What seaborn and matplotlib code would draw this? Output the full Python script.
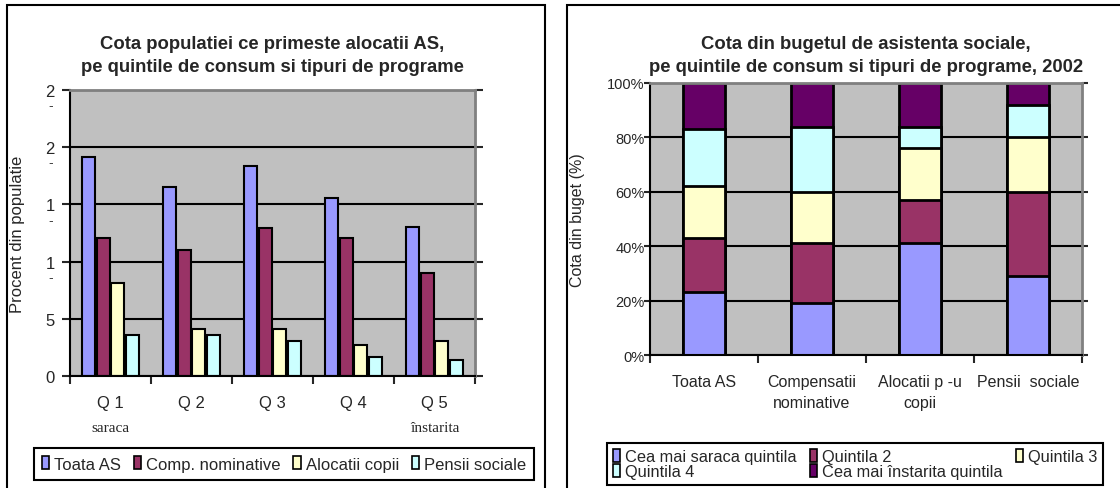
import numpy as np
import pandas as pd
import matplotlib
matplotlib.use("Agg")
import matplotlib.pyplot as plt
import seaborn as sns
from matplotlib.patches import Rectangle, Patch

# left chart: share of population receiving social assistance, by quintile
quintile_labels = ["Q 1", "Q 2", "Q 3", "Q 4", "Q 5"]
program_names = ["Toata AS", "Comp. nominative", "Alocatii copii", "Pensii sociale"]
toata_as = [19.1, 16.5, 18.4, 15.6, 13.0]
comp_nominative = [12.1, 11.0, 12.9, 12.1, 9.0]
alocatii_copii = [8.1, 4.1, 4.1, 2.7, 3.1]
pensii_sociale = [3.6, 3.6, 3.1, 1.7, 1.4]
left_yticks = [0, 5, 10, 15, 20, 25]
left_ytick_labels = ["0", "5", "1", "1", "2", "2"]

# right chart: share of social assistance budget by quintile (%)
program_labels = ["Toata AS", "Compensatii\nnominative", "Alocatii p -u\ncopii", "Pensii  sociale"]
quintila_names = ["Cea mai saraca quintila", "Quintila 2", "Quintila 3",
                  "Quintila 4", "Cea mai înstarita quintila"]
share_q1 = [23, 19, 41, 29]
share_q2 = [20, 22, 16, 31]
share_q3 = [19, 19, 19, 20]
share_q4 = [21, 24, 8, 12]
share_q5 = [17, 16, 16, 8]

colors = ["#9999FF", "#993366", "#FFFFCC", "#CCFFFF", "#660066"]

sns.set_style("white")
plt.rcParams["font.family"] = ["Liberation Sans", "DejaVu Sans"]

fig = plt.figure(figsize=(11.2, 4.89), dpi=100)
ax1 = fig.add_axes([70 / 1120, 1 - 377 / 489, 405 / 1120, 286 / 489])
ax2 = fig.add_axes([650 / 1120, 1 - 356 / 489, 432 / 1120, 272 / 489])

# panel frames
fig.add_artist(Rectangle((7 / 1120, -0.05), 538 / 1120, 1 - 6 / 489 + 0.05,
                         transform=fig.transFigure, fill=False, edgecolor="black", lw=1.5))
fig.add_artist(Rectangle((567 / 1120, -0.05), 0.6, 1 - 6 / 489 + 0.05,
                         transform=fig.transFigure, fill=False, edgecolor="black", lw=1.5))

# ---- left chart
df_left = pd.DataFrame({"quintila": quintile_labels,
                        program_names[0]: toata_as,
                        program_names[1]: comp_nominative,
                        program_names[2]: alocatii_copii,
                        program_names[3]: pensii_sociale})
df_left = df_left.melt(id_vars="quintila", var_name="program", value_name="procent")

sns.barplot(data=df_left, x="quintila", y="procent", hue="program",
            palette=colors[:4], saturation=1, width=0.72, gap=0.12,
            edgecolor="black", linewidth=1.5, legend=False, ax=ax1)

ax1.set_facecolor("#C0C0C0")
ax1.set_xlim(-0.5, 4.5)
ax1.set_ylim(0, 25)
ax1.set_yticks(left_yticks)
ax1.set_yticklabels(left_ytick_labels, fontsize=12)
ax1.yaxis.grid(True, color="black", lw=1.5)
ax1.set_axisbelow(True)
ax1.tick_params(axis="y", direction="out", length=6, width=1.5, pad=5, left=True, right=True)
ax1.tick_params(axis="x", length=0, pad=14, labelsize=12)
ax1.set_xticks(np.arange(-0.5, 5, 1), minor=True)
ax1.tick_params(axis="x", which="minor", direction="out", length=6, width=1.5, bottom=True)
# truncated tick labels leave a small dash under the digit
for v in left_yticks[2:]:
    ax1.annotate("-", xy=(0, v), xycoords=("axes fraction", "data"),
                 xytext=(-14, -11), textcoords="offset points",
                 ha="center", va="center", fontsize=10, color="#444444")
ax1.set_xlabel("")
ax1.set_ylabel("Procent din populatie", fontsize=12)
ax1.yaxis.set_label_coords(-0.111, 0.5)
for s in ["left", "bottom"]:
    ax1.spines[s].set_color("black")
    ax1.spines[s].set_linewidth(1.5)
for s in ["top", "right"]:
    ax1.spines[s].set_color("#808080")
    ax1.spines[s].set_linewidth(2)

ax1.text(0, -0.18, "saraca", transform=ax1.get_xaxis_transform(), ha="center", va="center",
         family=["Liberation Serif", "DejaVu Serif"], fontsize=11)
ax1.text(4, -0.18, "înstarita", transform=ax1.get_xaxis_transform(), ha="center", va="center",
         family=["Liberation Serif", "DejaVu Serif"], fontsize=11)

fig.text(272 / 1120, 1 - 56 / 489,
         "Cota populatiei ce primeste alocatii AS,\npe quintile de consum si tipuri de programe",
         ha="center", va="center", fontsize=13.3, fontweight="bold", linespacing=1.4)

leg1 = fig.legend([Patch(facecolor=c, edgecolor="black", lw=1.2) for c in colors[:4]],
                  program_names, loc="center", bbox_to_anchor=(284 / 1120, 1 - 465 / 489),
                  ncol=4, fontsize=12, frameon=True, fancybox=False, edgecolor="black",
                  framealpha=1, handlelength=0.45, handleheight=0.8, handletextpad=0.3,
                  columnspacing=0.75, borderpad=0.5, borderaxespad=0)
leg1.get_frame().set_linewidth(1.5)

# ---- right chart (stacked)
shares = np.array([share_q1, share_q2, share_q3, share_q4, share_q5])
cumulative = np.cumsum(shares, axis=0)
for i in reversed(range(len(quintila_names))):
    sns.barplot(x=program_labels, y=cumulative[i], color=colors[i], saturation=1,
                width=0.39, edgecolor="black", linewidth=2, ax=ax2)

ax2.set_facecolor("#C0C0C0")
ax2.set_xlim(-0.5, 3.5)
ax2.set_ylim(0, 100)
ax2.set_yticks([0, 20, 40, 60, 80, 100])
ax2.set_yticklabels(["0%", "20%", "40%", "60%", "80%", "100%"], fontsize=10.5)
ax2.yaxis.grid(True, color="black", lw=1.5)
ax2.set_axisbelow(True)
ax2.tick_params(axis="y", direction="out", length=4, width=1.5, pad=0, left=True, right=True)
ax2.tick_params(axis="x", length=0, pad=14, labelsize=11.5)
for lab in ax2.get_xticklabels():
    lab.set_linespacing(1.45)
ax2.set_xticks(np.arange(-0.5, 4, 1), minor=True)
ax2.tick_params(axis="x", which="minor", direction="out", length=6, width=1.5, bottom=True)
ax2.set_xlabel("")
ax2.set_ylabel("Cota din buget (%)", fontsize=11.5)
ax2.yaxis.set_label_coords(-0.150, 0.5)
for s in ["left", "bottom"]:
    ax2.spines[s].set_color("black")
    ax2.spines[s].set_linewidth(1.5)
for s in ["top", "right"]:
    ax2.spines[s].set_color("#808080")
    ax2.spines[s].set_linewidth(2)

fig.text(866 / 1120, 1 - 56 / 489,
         "Cota din bugetul de asistenta sociale,\npe quintile de consum si tipuri de programe, 2002",
         ha="center", va="center", fontsize=13.3, fontweight="bold", linespacing=1.4)

handles2 = [Patch(facecolor=c, edgecolor="black", lw=1.2) for c in colors]
order = [0, 3, 1, 4, 2]
leg2 = fig.legend([handles2[k] for k in order], [quintila_names[k] for k in order],
                  loc="center", bbox_to_anchor=(855 / 1120, 1 - 465 / 489),
                  ncol=3, fontsize=11.8, frameon=True, fancybox=False, edgecolor="black",
                  framealpha=1, handlelength=0.45, handleheight=0.8, handletextpad=0.3,
                  columnspacing=0.8, labelspacing=0.0, borderpad=0.35, borderaxespad=0)
leg2.get_frame().set_linewidth(1.5)

plt.savefig("out.png", dpi=100)
